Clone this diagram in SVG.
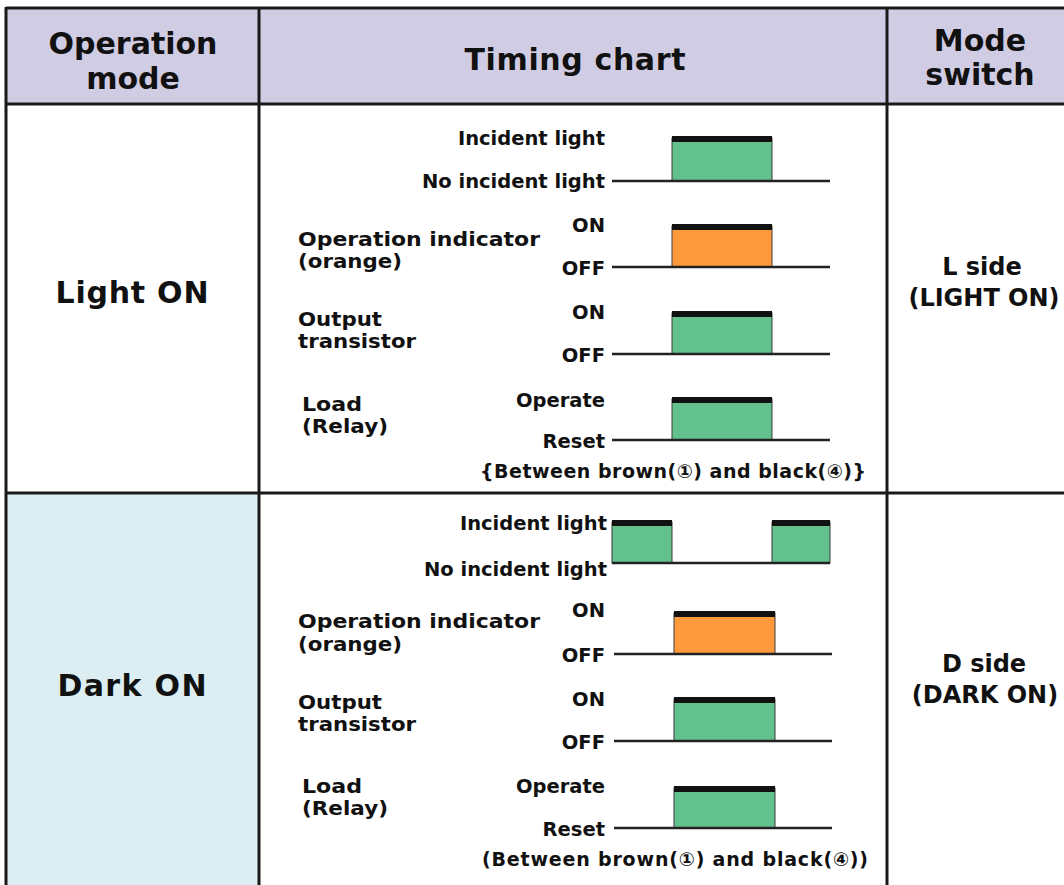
<svg xmlns="http://www.w3.org/2000/svg" width="1064" height="885" viewBox="0 0 1064 885">
<style>
.hdr{font-family:"DejaVu Sans","Liberation Sans",sans-serif;font-weight:bold;font-size:30px;fill:#111;text-anchor:middle}
.mode{font-family:"DejaVu Sans","Liberation Sans",sans-serif;font-weight:bold;font-size:30px;fill:#111;text-anchor:middle}
.sw{font-family:"DejaVu Sans","Liberation Sans",sans-serif;font-weight:bold;font-size:24px;fill:#111;text-anchor:middle}
.lbl{font-family:"DejaVu Sans","Liberation Sans",sans-serif;font-weight:bold;font-size:19px;fill:#111}
.st{font-family:"DejaVu Sans","Liberation Sans",sans-serif;font-weight:bold;font-size:19.5px;fill:#111;text-anchor:end}
.note{font-family:"DejaVu Sans","Liberation Sans","Noto Sans CJK JP",sans-serif;font-weight:bold;font-size:19px;fill:#111;text-anchor:middle}
.grid{stroke:#1a1a1a;stroke-width:3;fill:none}
.base{stroke:#222;stroke-width:2.5}
.g{fill:#63C18E;stroke:#3a3a3a;stroke-width:1}
.o{fill:#FF9A3C;stroke:#3a3a3a;stroke-width:1}
.bar{fill:#111}
</style>
<rect width="1064" height="885" fill="#fff"/>
<g id="backgrounds">
<rect x="6" y="8" width="1058" height="96" fill="#D0CCE3"/>
<rect x="6" y="493" width="253" height="392" fill="#DCEEF1"/>
</g>
<g id="grid-lines">
<line class="grid" x1="6" y1="8" x2="1064" y2="8"/>
<line class="grid" x1="6" y1="104" x2="1064" y2="104"/>
<line class="grid" x1="6" y1="493" x2="1064" y2="493"/>
<line class="grid" x1="6" y1="7" x2="6" y2="885"/>
<line class="grid" x1="259" y1="8" x2="259" y2="885"/>
<line class="grid" x1="887" y1="8" x2="887" y2="885"/>
</g>
<g id="header">
<text class="hdr" x="133" y="54">Operation</text>
<text class="hdr" x="133" y="89">mode</text>
<text class="hdr" x="575" y="70" textLength="221">Timing chart</text>
<text class="hdr" x="980" y="51">Mode</text>
<text class="hdr" x="980" y="85">switch</text>
</g>
<g id="mode-light-on">
<text class="mode" x="132" y="303" textLength="153">Light ON</text>
</g>
<g id="mode-dark-on">
<text class="mode" x="132" y="696" textLength="149">Dark ON</text>
</g>
<g id="switch-l">
<text class="sw" x="982" y="275">L side</text>
<text class="sw" x="984" y="306">(LIGHT ON)</text>
</g>
<g id="switch-d">
<text class="sw" x="984" y="672">D side</text>
<text class="sw" x="985" y="703">(DARK ON)</text>
</g>
<g id="chart-light-on">
<g id="lo-incident">
<text class="st" x="605" y="145">Incident light</text>
<text class="st" x="605" y="188">No incident light</text>
<rect class="g" x="672" y="138" width="100" height="43"/>
<rect class="bar" x="672" y="136" width="100" height="6"/>
<line class="base" x1="612" y1="181" x2="830" y2="181"/>
</g>
<g id="lo-indicator">
<text class="lbl" x="298" y="246" textLength="242" lengthAdjust="spacingAndGlyphs">Operation indicator</text>
<text class="lbl" x="298" y="268" textLength="104" lengthAdjust="spacingAndGlyphs">(orange)</text>
<text class="st" x="605" y="232">ON</text>
<text class="st" x="605" y="275">OFF</text>
<rect class="o" x="672" y="226" width="100" height="41"/>
<rect class="bar" x="672" y="224" width="100" height="6"/>
<line class="base" x1="612" y1="267" x2="830" y2="267"/>
</g>
<g id="lo-output">
<text class="lbl" x="298" y="326" textLength="84" lengthAdjust="spacingAndGlyphs">Output</text>
<text class="lbl" x="298" y="348" textLength="118" lengthAdjust="spacingAndGlyphs">transistor</text>
<text class="st" x="605" y="319">ON</text>
<text class="st" x="605" y="362">OFF</text>
<rect class="g" x="672" y="313" width="100" height="41"/>
<rect class="bar" x="672" y="311" width="100" height="6"/>
<line class="base" x1="612" y1="354" x2="830" y2="354"/>
</g>
<g id="lo-load">
<text class="lbl" x="302" y="411" textLength="60" lengthAdjust="spacingAndGlyphs">Load</text>
<text class="lbl" x="302" y="433" textLength="86" lengthAdjust="spacingAndGlyphs">(Relay)</text>
<text class="st" x="605" y="407">Operate</text>
<text class="st" x="605" y="448">Reset</text>
<rect class="g" x="672" y="399" width="100" height="41"/>
<rect class="bar" x="672" y="397" width="100" height="6"/>
<line class="base" x1="612" y1="440" x2="830" y2="440"/>
</g>
<text class="note" x="673" y="478" textLength="386">{Between brown(①) and black(④)}</text>
</g>
<g id="chart-dark-on">
<g id="do-incident">
<text class="st" x="607" y="530">Incident light</text>
<text class="st" x="607" y="576">No incident light</text>
<rect class="g" x="612" y="522" width="60" height="41"/>
<rect class="bar" x="612" y="520" width="60" height="6"/>
<rect class="g" x="772" y="522" width="58" height="41"/>
<rect class="bar" x="772" y="520" width="58" height="6"/>
<line class="base" x1="612" y1="563" x2="830" y2="563"/>
</g>
<g id="do-indicator">
<text class="lbl" x="298" y="628" textLength="242" lengthAdjust="spacingAndGlyphs">Operation indicator</text>
<text class="lbl" x="298" y="651" textLength="104" lengthAdjust="spacingAndGlyphs">(orange)</text>
<text class="st" x="605" y="617">ON</text>
<text class="st" x="605" y="662">OFF</text>
<rect class="o" x="674" y="613" width="101" height="41"/>
<rect class="bar" x="674" y="611" width="101" height="6"/>
<line class="base" x1="614" y1="654" x2="832" y2="654"/>
</g>
<g id="do-output">
<text class="lbl" x="298" y="709" textLength="84" lengthAdjust="spacingAndGlyphs">Output</text>
<text class="lbl" x="298" y="731" textLength="118" lengthAdjust="spacingAndGlyphs">transistor</text>
<text class="st" x="605" y="706">ON</text>
<text class="st" x="605" y="749">OFF</text>
<rect class="g" x="674" y="699" width="101" height="42"/>
<rect class="bar" x="674" y="697" width="101" height="6"/>
<line class="base" x1="614" y1="741" x2="832" y2="741"/>
</g>
<g id="do-load">
<text class="lbl" x="302" y="793" textLength="60" lengthAdjust="spacingAndGlyphs">Load</text>
<text class="lbl" x="302" y="815" textLength="86" lengthAdjust="spacingAndGlyphs">(Relay)</text>
<text class="st" x="605" y="793">Operate</text>
<text class="st" x="605" y="836">Reset</text>
<rect class="g" x="674" y="788" width="101" height="40"/>
<rect class="bar" x="674" y="786" width="101" height="6"/>
<line class="base" x1="614" y1="828" x2="832" y2="828"/>
</g>
<text class="note" x="675" y="866" textLength="386">(Between brown(①) and black(④))</text>
</g>
</svg>
